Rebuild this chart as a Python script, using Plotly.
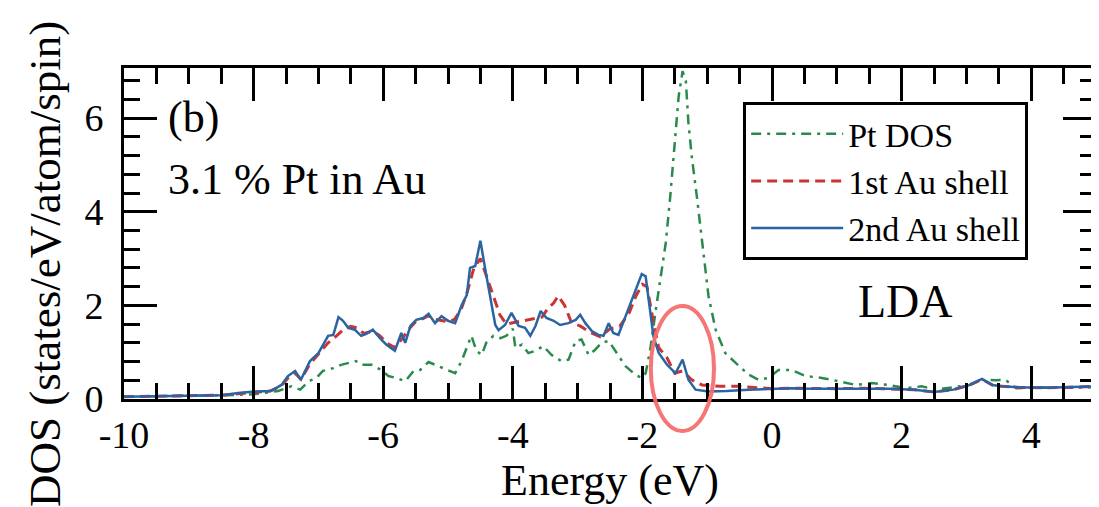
import plotly.graph_objects as go

# ---------------- data ----------------
pt_energy = [-10, -9, -8.5, -8.0, -7.62, -7.42, -7.28, -7.15, -7.03, -6.93, -6.77, -6.65,
             -6.42, -6.34, -6.18, -6.03, -5.92, -5.8, -5.66, -5.53, -5.43, -5.3, -5.15, -5.0,
             -4.89, -4.79, -4.69, -4.64, -4.56, -4.48, -4.41, -4.3, -4.19, -4.1, -4.0, -3.96,
             -3.86, -3.76, -3.65, -3.53, -3.4, -3.25, -3.14, -3.03, -2.94, -2.83, -2.73, -2.63,
             -2.52, -2.41, -2.26, -2.11, -2.01, -1.95, -1.88, -1.8, -1.72, -1.64, -1.57, -1.5,
             -1.44, -1.38, -1.33, -1.29, -1.24, -1.16, -1.08, -0.98, -0.87, -0.72, -0.56, -0.36,
             -0.21, -0.05, 0.1, 0.3, 0.52, 0.77, 1.03, 1.29, 1.54, 1.8, 2.07, 2.31, 2.53, 2.8,
             3.05, 3.24, 3.45, 3.6, 3.77, 4.1, 4.5, 5.0]
pt_dos = [0.05, 0.06, 0.08, 0.1, 0.17, 0.27, 0.2, 0.38, 0.45, 0.6, 0.66, 0.73,
          0.81, 0.73, 0.73, 0.62, 0.49, 0.45, 0.38, 0.6, 0.62, 0.79, 0.7, 0.62,
          0.55, 0.81, 1.16, 1.35, 1.03, 0.94, 1.2, 1.35, 1.3, 1.35, 1.5, 1.09,
          1.16, 0.98, 1.03, 1.13, 0.94, 0.81, 0.84, 1.24, 1.27, 0.94, 1.05, 1.2,
          1.24, 1.0, 0.7, 0.52, 0.45, 0.55, 1.05, 1.84, 2.62, 3.33, 4.33, 5.4,
          6.47, 7.0, 6.8, 5.9, 5.2, 4.33, 3.4, 2.2, 1.48, 0.98, 0.77, 0.52,
          0.41, 0.45, 0.62, 0.62, 0.49, 0.45, 0.38, 0.30, 0.34, 0.30, 0.23, 0.27, 0.2, 0.25,
          0.3, 0.41, 0.4, 0.41, 0.23, 0.25, 0.24, 0.25]

au1_energy = [-10, -9, -8.5, -8, -7.75, -7.57, -7.47, -7.36, -7.27, -7.13, -7.0, -6.85,
              -6.72, -6.6, -6.5, -6.4, -6.3, -6.16, -6.05, -5.95, -5.82, -5.7, -5.6, -5.5,
              -5.38, -5.3, -5.2, -5.1, -5.0, -4.9, -4.8, -4.7, -4.6, -4.5, -4.4, -4.3,
              -4.2, -4.1, -3.9, -3.7, -3.55, -3.45, -3.37, -3.3, -3.2, -3.1, -2.95, -2.8,
              -2.65, -2.5, -2.35, -2.2, -2.1, -2.0, -1.93, -1.85, -1.75, -1.62, -1.5, -1.38,
              -1.24, -1.08, -0.8, -0.5, -0.2, 0.0, 0.3, 0.6, 1.0, 1.4, 1.8, 2.2, 2.5, 2.8,
              3.05, 3.24, 3.4, 3.55, 3.8, 4.2, 4.6, 5.0]
au1_dos = [0.05, 0.07, 0.08, 0.14, 0.17, 0.28, 0.45, 0.55, 0.42, 0.75, 0.95, 1.2,
           1.35, 1.5, 1.55, 1.52, 1.4, 1.45, 1.35, 1.2, 1.1, 1.3, 1.5, 1.65,
           1.72, 1.78, 1.7, 1.68, 1.65, 1.7, 1.9, 2.3, 2.8, 3.0, 2.6, 2.2,
           1.8, 1.6, 1.65, 1.7, 1.75, 1.95, 2.05, 2.2, 2.0, 1.65, 1.55, 1.42,
           1.33, 1.5, 1.55, 1.85, 2.2, 2.45, 2.4, 1.8, 1.1, 0.88, 0.55, 0.6,
           0.41, 0.3, 0.27, 0.27, 0.24, 0.22, 0.23, 0.22, 0.22, 0.23, 0.22, 0.2, 0.15, 0.2,
           0.3, 0.42, 0.3, 0.27, 0.25, 0.24, 0.25, 0.27]

au2_energy = [-10, -9.5, -9, -8.5, -8.24, -7.98, -7.73, -7.57, -7.47, -7.36, -7.27, -7.13,
              -7.0, -6.85, -6.77, -6.69, -6.62, -6.54, -6.44, -6.34, -6.26, -6.16, -6.05, -5.95,
              -5.82, -5.72, -5.66, -5.58, -5.49, -5.38, -5.3, -5.2, -5.1, -5.0, -4.89, -4.79,
              -4.71, -4.66, -4.58, -4.5, -4.42, -4.35, -4.27, -4.22, -4.12, -4.02, -3.91, -3.81,
              -3.73, -3.65, -3.57, -3.48, -3.37, -3.27, -3.14, -3.03, -2.96, -2.88, -2.78, -2.68,
              -2.6, -2.52, -2.45, -2.37, -2.29, -2.21, -2.11, -2.01, -1.95, -1.88, -1.83, -1.75,
              -1.62, -1.49, -1.38, -1.29, -1.18, -0.98, -0.7, -0.36, 0.0, 0.3, 0.6, 1.0,
              1.4, 1.8, 2.2, 2.5, 2.8, 3.05, 3.24, 3.4, 3.55, 3.8, 4.2, 4.6, 5.0]
au2_dos = [0.05, 0.06, 0.07, 0.08, 0.13, 0.16, 0.17, 0.3, 0.49, 0.6, 0.41, 0.81,
           0.98, 1.35, 1.37, 1.75, 1.67, 1.52, 1.48, 1.35, 1.39, 1.48, 1.30, 1.16,
           1.03, 1.41, 1.2, 1.56, 1.69, 1.73, 1.82, 1.62, 1.77, 1.67, 1.62, 2.0,
           2.22, 2.8, 2.84, 3.38, 2.73, 2.22, 1.58, 1.47, 1.58, 1.84, 1.56, 1.52,
           1.35, 1.56, 1.88, 1.73, 1.67, 1.58, 1.62, 1.69, 1.8, 1.62, 1.45, 1.37,
           1.35, 1.62, 1.41, 1.37, 1.66, 1.94, 2.33, 2.67, 2.62, 1.91, 1.34, 0.99,
           0.73, 0.55, 0.84, 0.41, 0.2, 0.16, 0.17, 0.2, 0.22, 0.23, 0.22, 0.22,
           0.23, 0.22, 0.2, 0.15, 0.2, 0.3, 0.43, 0.3, 0.27, 0.25, 0.24, 0.25, 0.27]

x_tick_vals = [-10, -8, -6, -4, -2, 0, 2, 4]
x_tick_text = ["-10", "-8", "-6", "-4", "-2", "0", "2", "4"]
y_tick_vals = [0, 2, 4, 6]
y_tick_text = ["0", "2", "4", "6"]

series_names = ["Pt DOS", "1st Au shell", "2nd Au shell"]

# ---------------- figure ----------------
FONT = "Liberation Serif"
GREEN = "#2a8a4c"
RED = "#cc3333"
BLUE = "#2b64a3"
X_RANGE = [-10, 5]
Y_RANGE = [0, 7.07]

fig = go.Figure()
# the three curves share identical scales; the 2nd set of (overlaying, matched) axes
# only carries the minor ticks on all four sides
fig.add_trace(go.Scatter(x=pt_energy, y=pt_dos, mode="lines", name=series_names[0],
                         xaxis="x", yaxis="y",
                         line=dict(color=GREEN, width=2.5, dash="10px,6px,3px,6px")))
fig.add_trace(go.Scatter(x=au1_energy, y=au1_dos, mode="lines", name=series_names[1],
                         xaxis="x2", yaxis="y",
                         line=dict(color=RED, width=3, dash="10px,6px")))
fig.add_trace(go.Scatter(x=au2_energy, y=au2_dos, mode="lines", name=series_names[2],
                         xaxis="x2", yaxis="y2",
                         line=dict(color=BLUE, width=2.5)))

axis_common = dict(
    showline=True, linewidth=3, linecolor="black", mirror="ticks",
    ticks="inside", tickwidth=3, ticklen=33, tickcolor="black",
    showgrid=False, zeroline=False, automargin=False,
    tickfont=dict(family=FONT, size=38, color="black"),
)
minor_common = dict(
    ticks="inside", tickwidth=3, ticklen=16, tickcolor="black", mirror="ticks",
    showline=False, showgrid=False, zeroline=False, showticklabels=False,
    automargin=False, tickmode="linear",
)

fig.update_layout(
    xaxis=dict(range=X_RANGE, tickmode="array", tickvals=x_tick_vals, ticktext=x_tick_text,
               title=dict(text="Energy (eV)", font=dict(family=FONT, size=44, color="black"),
                          standoff=8),
               **axis_common),
    yaxis=dict(range=Y_RANGE, tickmode="array", tickvals=y_tick_vals, ticktext=y_tick_text,
               ticklabelstandoff=10, **axis_common),
    xaxis2=dict(overlaying="x", matches="x", anchor="y", side="bottom", range=X_RANGE,
                tick0=-10, dtick=0.5, **minor_common),
    yaxis2=dict(overlaying="y", matches="y", anchor="x", side="left", range=Y_RANGE,
                tick0=0, dtick=0.4, **minor_common),
)

fig.update_layout(
    width=1099, height=507,
    margin=dict(l=116, r=11, t=60, b=116, autoexpand=False),
    plot_bgcolor="white", paper_bgcolor="white",
    font=dict(family=FONT, color="black"),
    showlegend=True,
    legend=dict(x=0.637, y=0.897, xanchor="left", yanchor="top",
                bgcolor="white", bordercolor="black", borderwidth=3,
                font=dict(family=FONT, size=34, color="black"),
                itemwidth=92, tracegroupgap=0),
    annotations=[
        dict(text="DOS (states/eV/atom/spin)", xref="paper", yref="paper",
             x=-0.0813, y=0.408, xanchor="center", yanchor="middle", textangle=-90,
             showarrow=False, font=dict(family=FONT, size=45, color="black")),
        dict(text="(b)", xref="paper", yref="paper", x=0.0432, y=0.849,
             xanchor="left", yanchor="middle", showarrow=False,
             font=dict(family=FONT, size=44, color="black")),
        dict(text="3.1 % Pt in Au", xref="paper", yref="paper", x=0.0432, y=0.662,
             xanchor="left", yanchor="middle", showarrow=False,
             font=dict(family=FONT, size=44, color="black")),
        dict(text="LDA", xref="paper", yref="paper", x=0.753, y=0.296,
             xanchor="left", yanchor="middle", showarrow=False,
             font=dict(family=FONT, size=46, color="black")),
    ],
    shapes=[
        dict(type="circle", xref="paper", yref="paper", x0=0.542, x1=0.607,
             y0=-0.0967, y1=0.281, layer="above",
             line=dict(color="rgba(245,110,110,0.95)", width=4)),
    ],
)

fig.write_html("out.html")
